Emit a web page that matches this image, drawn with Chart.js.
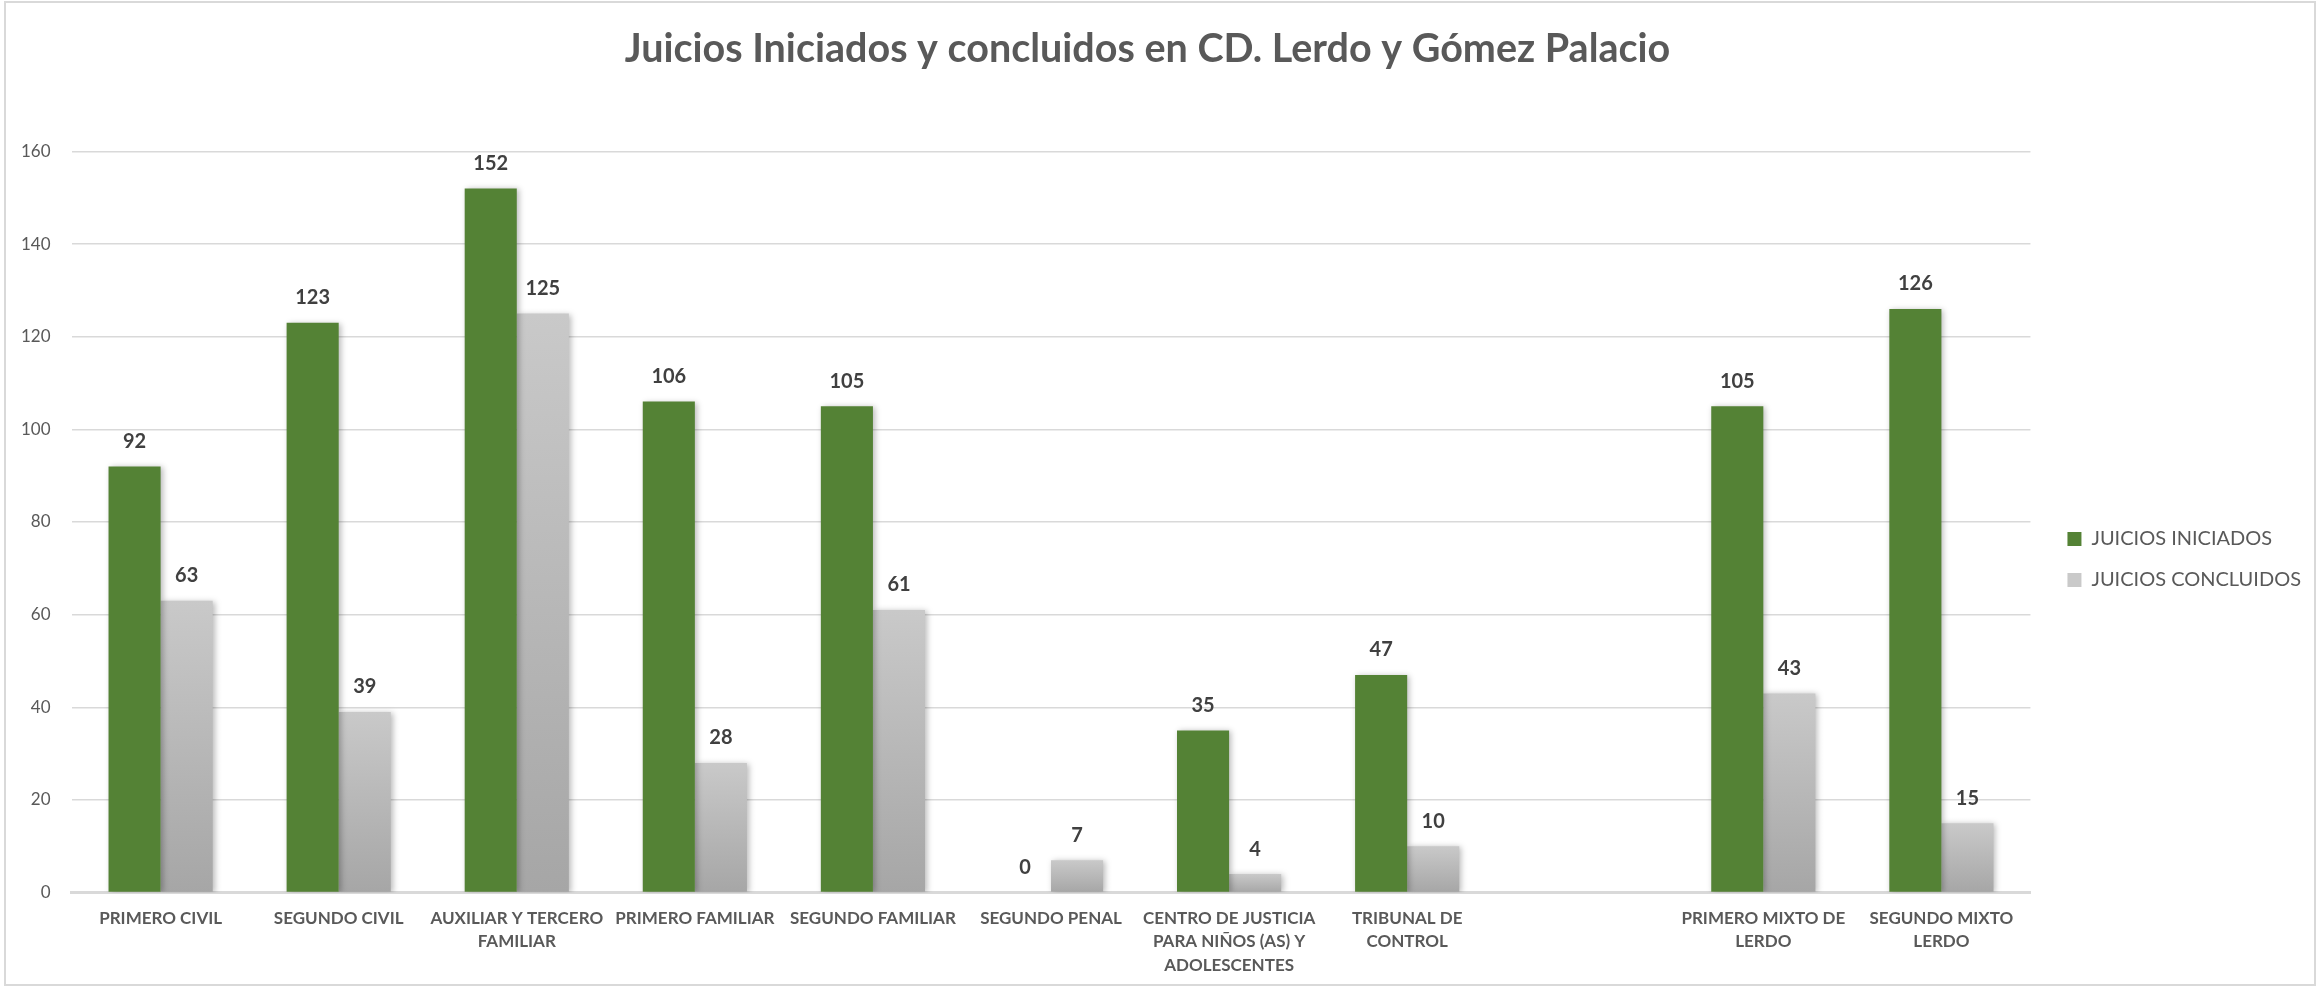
<!DOCTYPE html>
<html>
<head>
<meta charset="utf-8">
<script src="https://cdn.jsdelivr.net/npm/chart.js@4/dist/chart.umd.min.js"></script>
<style>
  html, body { margin: 0; padding: 0; background: #ffffff; }
  canvas { display: block; }
</style>
</head>
<body>
<canvas id="juicios-chart" width="2320" height="988"></canvas>
<script>
// Categories (one empty slot between TRIBUNAL DE CONTROL and the Lerdo courts)
const juzgados = [
    ['PRIMERO CIVIL'],
    ['SEGUNDO CIVIL'],
    ['AUXILIAR Y TERCERO', 'FAMILIAR'],
    ['PRIMERO FAMILIAR'],
    ['SEGUNDO FAMILIAR'],
    ['SEGUNDO PENAL'],
    ['CENTRO DE JUSTICIA', 'PARA NIÑOS (AS) Y', 'ADOLESCENTES'],
    ['TRIBUNAL DE', 'CONTROL'],
    '',
    ['PRIMERO MIXTO DE', 'LERDO'],
    ['SEGUNDO MIXTO', 'LERDO']
];

const juiciosIniciados = [92, 123, 152, 106, 105, 0, 35, 47, null, 105, 126];
const juiciosConcluidos = [63, 39, 125, 28, 61, 7, 4, 10, null, 43, 15];

const yTicks = [0, 20, 40, 60, 80, 100, 120, 140, 160];

const FONT = 'Lato, "Open Sans", sans-serif';

// Gray bars fade from light at the top to darker at the base
function grayGradient(context) {
    const chart = context.chart;
    const yScale = chart.scales.y;
    if (!chart.chartArea || !yScale || context.parsed == null) {
        return '#bfbfbf';
    }
    const top = yScale.getPixelForValue(context.parsed.y || 0);
    const base = yScale.getPixelForValue(0);
    if (base - top < 1) return '#bfbfbf';
    const g = chart.ctx.createLinearGradient(0, top, 0, base);
    g.addColorStop(0, '#c9c9c9');
    g.addColorStop(1, '#a6a6a6');
    return g;
}

// White background and thin frame around the whole chart
const framePlugin = {
    id: 'frame',
    beforeDraw(chart) {
        const ctx = chart.ctx;
        ctx.save();
        ctx.fillStyle = '#ffffff';
        ctx.fillRect(0, 0, chart.width, chart.height);
        ctx.strokeStyle = '#d9d9d9';
        ctx.lineWidth = 2;
        ctx.strokeRect(5, 2, chart.width - 10, chart.height - 5);
        ctx.restore();
    }
};

// Move the legend block a bit lower and further right of the plot
const legendOffsetPlugin = {
    id: 'legendOffset',
    afterLayout(chart) {
        const lg = chart.legend;
        if (!lg) return;
        lg.left += 16;
        lg.right += 16;
        lg.top += 64;
        lg.bottom += 64;
    }
};

// Soft drop shadow under the bars
const shadowPlugin = {
    id: 'barShadow',
    beforeDatasetsDraw(chart) {
        const ctx = chart.ctx;
        ctx.save();
        ctx.shadowColor = 'rgba(0, 0, 0, 0.28)';
        ctx.shadowBlur = 6;
        ctx.shadowOffsetX = 2;
        ctx.shadowOffsetY = 1;
    },
    afterDatasetsDraw(chart) {
        chart.ctx.restore();
    }
};

// Value printed above every bar
const valueLabelsPlugin = {
    id: 'valueLabels',
    afterDatasetsDraw(chart) {
        const ctx = chart.ctx;
        ctx.save();
        ctx.font = 'bold 20px ' + FONT;
        ctx.fillStyle = '#404040';
        ctx.textAlign = 'center';
        ctx.textBaseline = 'middle';
        chart.data.datasets.forEach((dataset, i) => {
            const meta = chart.getDatasetMeta(i);
            meta.data.forEach((bar, index) => {
                const value = dataset.data[index];
                if (value === null || value === undefined) return;
                ctx.fillText(String(value), bar.x, bar.y - 25);
            });
        });
        ctx.restore();
    }
};

const ctx = document.getElementById('juicios-chart').getContext('2d');
const juiciosChart = new Chart(ctx, {
    type: 'bar',
    data: {
        labels: juzgados,
        datasets: [{
            label: 'JUICIOS INICIADOS',
            data: juiciosIniciados,
            backgroundColor: '#548235',
            borderWidth: 0,
            categoryPercentage: 0.585,
            barPercentage: 1
        }, {
            label: 'JUICIOS CONCLUIDOS',
            data: juiciosConcluidos,
            backgroundColor: grayGradient,
            borderWidth: 0,
            categoryPercentage: 0.585,
            barPercentage: 1
        }]
    },
    options: {
        responsive: false,
        maintainAspectRatio: false,
        animation: false,
        devicePixelRatio: 1,
        layout: {
            padding: { left: 0, right: 25, top: 0, bottom: -3 }
        },
        scales: {
            x: {
                grid: { display: false, drawTicks: false },
                border: { color: '#d9d9d9', width: 3 },
                ticks: {
                    padding: 14,
                    maxRotation: 0,
                    autoSkip: false,
                    color: '#595959',
                    font: { family: FONT, size: 17, weight: 'bold', lineHeight: 1.38 }
                }
            },
            y: {
                min: 0,
                max: 160,
                afterBuildTicks(axis) {
                    axis.ticks = yTicks.map(v => ({ value: v }));
                },
                grid: { color: '#d9d9d9', lineWidth: 1.5, drawTicks: false },
                border: { display: false },
                ticks: {
                    padding: 21,
                    color: '#595959',
                    font: { family: FONT, size: 17 }
                }
            }
        },
        plugins: {
            title: {
                display: true,
                text: 'Juicios Iniciados y concluidos en CD. Lerdo y Gómez Palacio',
                color: '#595959',
                font: { family: FONT, size: 39.5, weight: 'bold', lineHeight: 1.2 },
                padding: { top: 26, bottom: 78 }
            },
            legend: {
                position: 'right',
                labels: {
                    boxWidth: 14,
                    boxHeight: 14,
                    padding: 21,
                    color: '#595959',
                    font: { family: FONT, size: 20 }
                }
            },
            tooltip: { enabled: false }
        }
    },
    plugins: [framePlugin, legendOffsetPlugin, shadowPlugin, valueLabelsPlugin]
});
</script>
</body>
</html>
